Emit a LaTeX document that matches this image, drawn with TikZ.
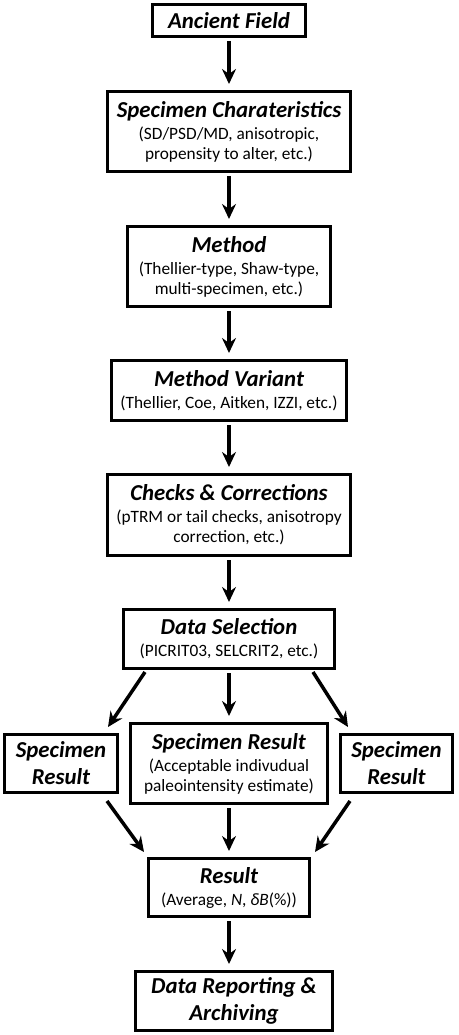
\documentclass[tikz,border=0pt]{standalone}
\usepackage{fontspec}
\setmainfont{Carlito}
\usetikzlibrary{arrows.meta, positioning}
\newcommand{\ttl}{\fontsize{22.8}{27}\selectfont\bfseries\itshape}
\newcommand{\sub}{\fontsize{17.3}{20}\selectfont}

\begin{document}
\begin{tikzpicture}[x=1pt, y=-1pt, >={Stealth[length=15pt, width=14pt, inset=5pt]}]
				\tikzstyle{box} = [draw=black, line width=3pt, rectangle, align=center, inner sep=0pt, font=\sub]
				\tikzstyle{tbox} = [box, font=\ttl]
				\tikzstyle{arr} = [->, line width=3.5pt, shorten <=3pt, shorten >=6pt]
				\useasboundingbox (0,0) rectangle (458,1035);
				
				\node[tbox, minimum width=153pt, minimum height=32pt]	at (229, 20.5)	(anc)	{Ancient Field};
				\node[box, minimum width=243pt, minimum height=80pt]	at (229, 131.5)	(spc)	{{\ttl Specimen Charateristics}\\[2pt] (SD/PSD/MD, anisotropic,\\ propensity to alter, etc.)};
				\node[box, minimum width=203pt, minimum height=80pt]	at (229, 266.5)	(meth)	{{\ttl Method}\\[2pt] (Thellier-type, Shaw-type,\\ multi-specimen, etc.)};
				\node[box, minimum width=235pt, minimum height=60pt]	at (229, 390.5)	(var)	{{\ttl Method Variant}\\[2pt] (Thellier, Coe, Aitken, IZZI, etc.)};
				\node[box, minimum width=243pt, minimum height=81pt]	at (229, 515)	(chk)	{{\ttl Checks \& Corrections}\\[2pt] (pTRM or tail checks, anisotropy\\ correction, etc.)};
				\node[box, minimum width=211pt, minimum height=59pt]	at (229, 639)	(sel)	{{\ttl Data Selection}\\[2pt] (PICRIT03, SELCRIT2, etc.)};
				\node[tbox, minimum width=113pt, minimum height=58pt]	at (61, 763.5)	(resL)	{Specimen\\ Result};
				\node[box, minimum width=197pt, minimum height=80pt]	at (229, 763.5)	(resM)	{{\ttl Specimen Result}\\[2pt] (Acceptable indivudual\\ paleointensity estimate)};
				\node[tbox, minimum width=112pt, minimum height=58pt]	at (396.5, 763.5)	(resR)	{Specimen\\ Result};
				\node[box, minimum width=161pt, minimum height=58pt]	at (229, 887.5)	(res)	{{\ttl Result}\\[2pt] (Average, \textit{N}, \textit{δB}(\%))};
				\node[tbox, minimum width=197pt, minimum height=59pt]	at (234, 1001)	(rep)	{Data Reporting \&\\ Archiving};
				
				\draw[arr] (anc.south) -- (spc.north);
				\draw[arr] (spc.south) -- (meth.north);
				\draw[arr] (meth.south) -- (var.north);
				\draw[arr] (var.south) -- (chk.north);
				\draw[arr] (chk.south) -- (sel.north);
				\draw[arr] (sel.south) -- (resM.north);
				\draw[arr] (resM.south) -- (res.north);
				\draw[arr] (res.south) -- (res.south |- rep.north);
				\draw[arr, shorten <=0pt, shorten >=0pt] ([xshift=23pt, yshift=-2pt]sel.south west) -- ([xshift=-11pt, yshift=6pt]resL.north east);
				\draw[arr, shorten <=0pt, shorten >=0pt] ([xshift=-23pt, yshift=-2pt]sel.south east) -- ([xshift=9pt, yshift=6pt]resR.north west);
				\draw[arr, shorten <=0pt, shorten >=0pt] ([xshift=-12pt, yshift=-7pt]resL.south east) -- ([xshift=-3pt, yshift=5pt]res.north west);
				\draw[arr, shorten <=0pt, shorten >=0pt] ([xshift=11pt, yshift=-7pt]resR.south west) -- ([xshift=4pt, yshift=5pt]res.north east);
			\end{tikzpicture}
\end{document}
